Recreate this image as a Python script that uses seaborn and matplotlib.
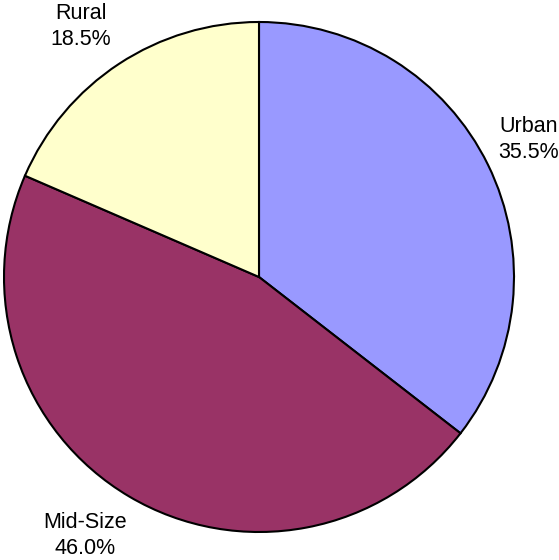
import matplotlib
matplotlib.use("Agg")
import matplotlib.pyplot as plt
import seaborn as sns
import numpy as np

categories = ["Urban", "Mid-Size", "Rural"]
shares = [35.5, 46.0, 18.5]
colors = ["#9999FF", "#993366", "#FFFFCC"]

sns.set_theme(style="white")
plt.rcParams["font.family"] = ["Liberation Sans", "DejaVu Sans"]

W, H = 559, 560
fig = plt.figure(figsize=(W / 100, H / 100), dpi=100)
cx, cy, R = 259, 277, 255
ax = fig.add_axes([(cx - R) / W, (H - cy - R) / H, 2 * R / W, 2 * R / H])

labels = [f"{c}\n{v:.1f}%" for c, v in zip(categories, shares)]
wedges, texts = ax.pie(
    shares,
    labels=labels,
    colors=colors,
    startangle=90,
    counterclock=False,
    labeldistance=1.2,
    wedgeprops=dict(edgecolor="black", linewidth=1.5),
    textprops=dict(fontsize=15.5, color="black", linespacing=1.3),
)
offsets = [(-0.02, 0.01), (-0.07, 0.02), (-0.04, -0.02)]
for t, (dx, dy) in zip(texts, offsets):
    x, y = t.get_position()
    t.set_position((x + dx, y + dy))
    t.set_ha("center")
    t.set_va("center")

ax.set_xlim(-1, 1)
ax.set_ylim(-1, 1)
ax.set_aspect("equal")
ax.axis("off")
fig.savefig("out.png", dpi=100)
